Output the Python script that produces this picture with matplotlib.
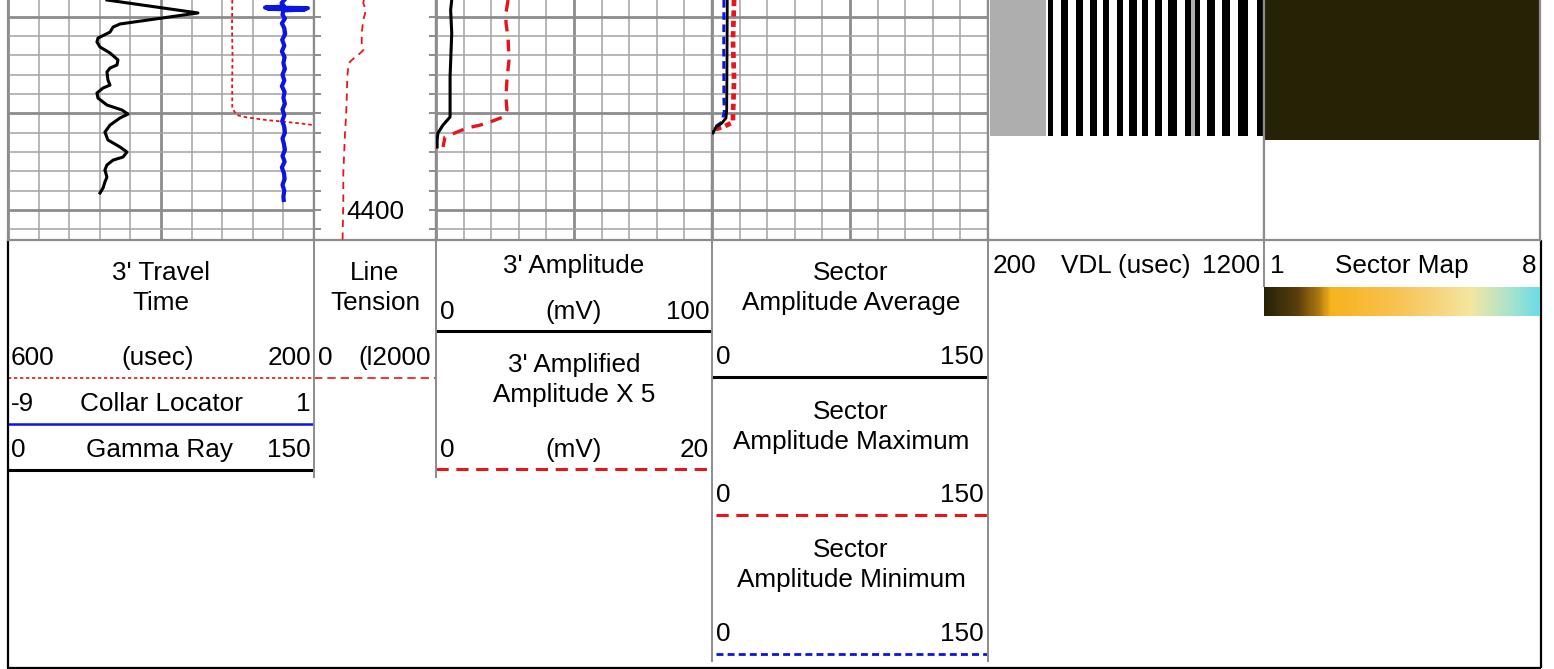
import numpy as np
import matplotlib
matplotlib.use('Agg')
import matplotlib.pyplot as plt
from matplotlib.ticker import MultipleLocator, FixedLocator, NullFormatter
from matplotlib.colors import LinearSegmentedColormap, Normalize
from matplotlib.cm import ScalarMappable
from matplotlib.transforms import blended_transform_factory, offset_copy

plt.rcParams['font.family'] = ['Liberation Sans', 'DejaVu Sans']

# ---------------- data ----------------
depth_top = 4291.4
depth_bottom = 4415.5
depth_labels = [4400]

# Track 1: gamma ray (0-150)
gr_depth = [4291.4, 4298.1, 4303.8, 4305.4, 4308.0, 4311.1, 4313.1, 4315.7, 4318.8, 4322.4,
            4325.0, 4326.6, 4328.6, 4332.8, 4335.4, 4336.9, 4339.5, 4342.1, 4345.7, 4348.3,
            4350.4, 4352.4, 4356.1, 4359.7, 4363.8, 4367.4, 4370.0, 4372.6, 4374.2, 4376.7,
            4379.3, 4383.0, 4385.5, 4388.6, 4391.2]
gr_value = [48.5, 93.1, 54.9, 51.5, 50.0, 44.1, 43.6, 45.1, 50.0, 53.9,
            53.4, 50.0, 48.5, 49.0, 50.0, 46.6, 43.6, 44.1, 48.5, 55.9,
            58.8, 54.9, 50.0, 47.5, 49.0, 54.9, 58.3, 56.4, 51.5, 48.5,
            47.5, 48.5, 47.5, 46.6, 45.1]

# Track 1: collar locator (-9 to 1)
ccl_depth = [4291.4, 4293.0, 4294.8, 4295.3, 4295.6, 4296.0, 4296.3, 4296.8, 4299.0, 4301.0,
             4303.5, 4306.0, 4309.0, 4312.0, 4315.0, 4318.0, 4321.0, 4324.0, 4327.0, 4330.0,
             4333.0, 4336.0, 4339.0, 4342.0, 4345.0, 4348.0, 4351.0, 4354.0, 4357.0, 4360.0,
             4363.0, 4366.0, 4369.0, 4372.0, 4375.0, 4378.0, 4381.0, 4384.0, 4387.0, 4390.0,
             4393.0, 4394.8]
ccl_value = [0.03, -0.06, 0.03, -0.60, 0.80, -0.50, 0.70, 0.00, -0.03, 0.05,
             -0.05, 0.03, 0.06, -0.04, 0.03, -0.05, 0.04, 0.00, 0.05, -0.03,
             0.03, -0.05, 0.04, 0.00, 0.05, -0.03, 0.03, -0.04, 0.03, 0.05,
             -0.03, 0.02, 0.05, -0.03, 0.04, -0.05, 0.02, 0.04, -0.03, 0.03,
             0.00, 0.01]

# Track 1: 3' travel time (600 -> 200 usec)
tt_depth = [4291.4, 4305.0, 4320.0, 4335.0, 4347.3, 4350.9, 4352.1, 4353.5, 4354.3, 4355.2, 4356.1]
tt_value = [306.8, 307.2, 306.5, 307.0, 306.8, 301.0, 288.0, 261.8, 240.1, 218.3, 200.0]

# Track 2: line tension (0-12000)
lt_depth = [4291.4, 4293.1, 4296.6, 4301.7, 4308.6, 4313.8, 4317.3, 4319.0, 4321.0, 4323.3,
            4325.9, 4331.1, 4343.1, 4351.8, 4360.3, 4369.0, 4381.0, 4394.8, 4412.1, 4415.5]
lt_value = [4900, 4849, 5115, 4849, 4692, 4692, 4849, 4525, 4033, 3541,
            3374, 3275, 3216, 3148, 3049, 2980, 2882, 2882, 2823, 2810]

# Track 3: 3' amplitude (0-100 mV) and amplified x5 (0-20 mV)
amp_depth = [4291.4, 4296.6, 4308.5, 4331.2, 4351.9, 4356.1, 4360.2, 4363.8, 4367.4]
amp_value = [5.7, 5.3, 5.7, 5.1, 5.1, 2.5, 0.7, 0.4, 0.4]
amp5_depth = [4291.4, 4298.1, 4303.3, 4310.5, 4322.4, 4332.8, 4341.6, 4348.3, 4351.9, 4354.5,
              4356.1, 4357.6, 4359.7, 4362.3, 4367.4]
amp5_value = [5.22, 5.07, 5.07, 5.22, 5.29, 5.14, 5.07, 5.14, 4.86, 3.91,
              3.19, 2.25, 1.52, 0.65, 0.51]

# Track 4: sector amplitudes (0-150)
sav_depth = [4291.4, 4322.4, 4348.3, 4352.4, 4355.0, 4357.1, 4360.2]
sav_value = [8.3, 8.15, 8.0, 7.6, 5.4, 2.2, 0.5]
smx_depth = [4291.4, 4312.1, 4332.8, 4350.9, 4354.5, 4356.6, 4358.1, 4359.2]
smx_value = [12.0, 11.4, 12.0, 11.4, 11.4, 7.1, 2.2, 0.5]
smn_depth = [4291.4, 4317.3, 4343.1, 4349.3, 4354.5, 4357.1, 4360.2]
smn_value = [6.5, 6.4, 6.5, 6.7, 5.4, 1.6, 0.5]

# VDL (200-1200 usec): stripes
vdl_depth = [4291.4, 4361.7]
vdl_gray_bands = [(207, 410), (935, 950)]
vdl_black_bands = [(417, 435), (464, 490), (519, 544), (570, 595), (617, 638), (667, 689),
                   (711, 740), (758, 780), (805, 830), (852, 885), (914, 935), (950, 968),
                   (993, 1022), (1048, 1077), (1106, 1142), (1175, 1200)]

# Sector map (1-8)
sector_depth = [4291.4, 4363.8]
sector_values = [1, 1, 1, 1, 1, 1, 1, 1]
sector_range = [1, 8]

# ---------------- layout ----------------
W, H = 1554, 669
DPI = 100
FS = 18.8
GRID_MINOR = '#a6a6a6'
GRID_MAJOR = '#8c8c8c'
RED = '#e8141c'
BLUE = '#0b14e0'

fig = plt.figure(figsize=(W / DPI, H / DPI), dpi=DPI)


def rect(x0, y0, x1, y1):
    return [x0 / W, 1 - y1 / H, (x1 - x0) / W, (y1 - y0) / H]


hax = fig.add_axes([0, 0, 1, 1])
hax.set_xlim(0, W)
hax.set_ylim(H, 0)
hax.axis('off')

PLOT_Y0, PLOT_Y1 = 0, 240
tracks = {'t1': (8, 314), 't2': (314, 436), 't3': (436, 712),
          't4': (712, 988), 'vdl': (988, 1264), 'sec': (1264, 1540)}


def base_track(key, grid=True):
    x0, x1 = tracks[key]
    ax = fig.add_axes(rect(x0, PLOT_Y0, x1, PLOT_Y1))
    ax.set_ylim(depth_bottom, depth_top)
    ax.set_xlim(0, 10)
    for s in ax.spines.values():
        s.set_color(GRID_MAJOR)
        s.set_linewidth(1.6)
    ax.spines['top'].set_visible(False)
    ax.xaxis.set_major_formatter(NullFormatter())
    ax.yaxis.set_major_formatter(NullFormatter())
    ax.yaxis.set_minor_formatter(NullFormatter())
    if grid:
        ax.xaxis.set_major_locator(FixedLocator([0, 5, 10]))
        ax.xaxis.set_minor_locator(MultipleLocator(1))
        ax.yaxis.set_major_locator(MultipleLocator(50))
        ax.yaxis.set_minor_locator(MultipleLocator(10))
        ax.grid(which='minor', color=GRID_MINOR, lw=1.15)
        ax.grid(which='major', color=GRID_MAJOR, lw=2.0)
        ax.tick_params(which='both', length=0)
    else:
        ax.set_xticks([])
        ax.set_yticks([])
    ax.set_axisbelow(True)
    return ax


def overlay(key, lo, hi):
    x0, x1 = tracks[key]
    ax = fig.add_axes(rect(x0, PLOT_Y0, x1, PLOT_Y1))
    ax.set_xlim(lo, hi)
    ax.set_ylim(depth_bottom, depth_top)
    ax.axis('off')
    return ax


# Track 1
base_track('t1')
a = overlay('t1', 600, 200)
a.plot(tt_value, tt_depth, color=RED, lw=1.3, ls=(0, (2, 1.6)))
a = overlay('t1', -9, 1)
a.plot(ccl_value, ccl_depth, color=BLUE, lw=3.0)
a = overlay('t1', 0, 150)
a.plot(gr_value, gr_depth, color='black', lw=2.2)

# Track 2 (depth)
ax2 = base_track('t2', grid=False)
ax2.yaxis.set_major_locator(MultipleLocator(10))
ax2.yaxis.set_major_formatter(NullFormatter())
ax2.tick_params(axis='y', which='both', direction='in', left=True, right=True,
                length=5, width=1.4, color=GRID_MAJOR)
tr = offset_copy(blended_transform_factory(ax2.transAxes, ax2.transData), fig=fig,
                 x=0, y=-8.5, units='dots')
for d in depth_labels:
    ax2.text(0.5, d, str(d), transform=tr, ha='center', va='baseline', fontsize=FS)
a = overlay('t2', 0, 12000)
a.plot(lt_value, lt_depth, color=RED, lw=1.3, ls=(0, (4, 3)))

# Track 3
base_track('t3')
a = overlay('t3', 0, 20)
a.plot(amp5_value, amp5_depth, color=RED, lw=2.4, ls=(0, (3.5, 2.5)))
a = overlay('t3', 0, 100)
a.plot(amp_value, amp_depth, color='black', lw=2.2)

# Track 4
base_track('t4')
a = overlay('t4', 0, 150)
a.plot(smx_value, smx_depth, color=RED, lw=3.4, ls=(0, (1.3, 0.9)))
a.plot(smn_value, smn_depth, color=BLUE, lw=2.2, ls=(0, (2.5, 1.5)))
a.plot(sav_value, sav_depth, color='black', lw=2.0)

# VDL
axv = base_track('vdl', grid=False)
axv.set_xlim(200, 1200)
t = np.arange(200, 1201)
row = np.zeros(t.size)
for lo, hi in vdl_gray_bands:
    row[(t >= lo) & (t < hi)] = 0.32
for lo, hi in vdl_black_bands:
    row[(t >= lo) & (t < hi)] = 1.0
axv.imshow(row[None, :], cmap='gray_r', vmin=0, vmax=1, aspect='auto',
           interpolation='nearest', extent=[200, 1200, vdl_depth[1], vdl_depth[0]])
axv.set_xlim(200, 1200)
axv.set_ylim(depth_bottom, depth_top)

# Sector map
cmap = LinearSegmentedColormap.from_list('sector', [
    (0.0, '#252205'), (0.12, '#5a3e0c'), (0.2, '#b07a10'), (0.24, '#f7b21c'),
    (0.45, '#f8bf4a'), (0.62, '#f6d27a'), (0.75, '#f4e6a0'), (0.88, '#b0e3c8'),
    (1.0, '#68dde6')])
norm = Normalize(sector_range[0], sector_range[1])
axs = base_track('sec', grid=False)
axs.imshow(np.array([sector_values]), cmap=cmap, norm=norm, aspect='auto',
           interpolation='nearest',
           extent=[0, len(sector_values), sector_depth[1], sector_depth[0]])
axs.set_xlim(0, len(sector_values))
axs.set_ylim(depth_bottom, depth_top)

cax = fig.add_axes(rect(1264, 287, 1540, 316))
cb = fig.colorbar(ScalarMappable(norm=norm, cmap=cmap), cax=cax, orientation='horizontal')
cb.outline.set_visible(False)
cax.set_xticks([])
cax.set_yticks([])

# ---------------- header ----------------
def htxt(x, y, s, ha='center'):
    hax.text(x, y + 9, s, ha=ha, va='baseline', fontsize=FS)


def hline(y, x0, x1, color='black', lw=2.0, ls='-'):
    hax.plot([x0, x1], [y, y], color=color, lw=lw, ls=ls, solid_capstyle='butt')


def vline(x, y0, y1, color=GRID_MAJOR, lw=1.4):
    hax.plot([x, x], [y0, y1], color=color, lw=lw, solid_capstyle='butt')


# Track 1 header
htxt(161, 271, "3' Travel")
htxt(161, 301, "Time")
htxt(11, 356, "600", 'left'); htxt(158, 356, "(usec)"); htxt(311, 356, "200", 'right')
hline(378, 8, 314, color=RED, lw=1.2, ls=(0, (2, 1.6)))
htxt(11, 402, "-9", 'left'); htxt(161, 402, "Collar Locator"); htxt(311, 402, "1", 'right')
hline(424, 8, 314, color=BLUE, lw=1.8)
htxt(11, 448, "0", 'left'); htxt(160, 448, "Gamma Ray"); htxt(311, 448, "150", 'right')
hline(470, 8, 314, color='black', lw=2.2)

# Track 2 header
htxt(375, 271, "Line")
htxt(375, 301, "Tension")
htxt(318, 356, "0", 'left'); htxt(431, 356, "(l2000", 'right')
hline(378, 314, 436, color=RED, lw=1.2, ls=(0, (5, 3)))

# Track 3 header
htxt(574, 264, "3' Amplitude")
htxt(440, 310, "0", 'left'); htxt(574, 310, "(mV)"); htxt(709, 310, "100", 'right')
hline(331, 436, 712, color='black', lw=2.2)
htxt(574, 363, "3' Amplified")
htxt(574, 393, "Amplitude X 5")
htxt(440, 448, "0", 'left'); htxt(574, 448, "(mV)"); htxt(709, 448, "20", 'right')
hline(469, 436, 712, color=RED, lw=2.2, ls=(0, (4, 2.5)))

# Track 4 header
htxt(851, 271, "Sector")
htxt(851, 301, "Amplitude Average")
htxt(716, 355, "0", 'left'); htxt(984, 355, "150", 'right')
hline(377, 712, 988, color='black', lw=2.2)
htxt(851, 410, "Sector")
htxt(851, 440, "Amplitude Maximum")
htxt(716, 493, "0", 'left'); htxt(984, 493, "150", 'right')
hline(515, 716, 988, color=RED, lw=2.2, ls=(0, (4, 2.5)))
htxt(851, 548, "Sector")
htxt(851, 578, "Amplitude Minimum")
htxt(716, 632, "0", 'left'); htxt(984, 632, "150", 'right')
hline(654, 716, 988, color=BLUE, lw=2.0, ls=(0, (2.5, 1.5)))

# VDL header
htxt(993, 264, "200", 'left'); htxt(1126, 264, "VDL (usec)"); htxt(1260, 264, "1200", 'right')

# Sector map header
htxt(1270, 264, "1", 'left'); htxt(1402, 264, "Sector Map"); htxt(1536, 264, "8", 'right')

# header frame lines
hline(240, 7, 1541, color='black', lw=1.2)
vline(314, 240, 478)
vline(436, 240, 478)
vline(712, 240, 662)
vline(988, 240, 662)
vline(1264, 240, 287)
vline(7.5, 240, 668, color='black', lw=1.6)
vline(1540.5, 240, 668, color='black', lw=1.6)
hline(667.5, 7, 1541, color='black', lw=1.6)

fig.savefig('out.png', dpi=DPI)
